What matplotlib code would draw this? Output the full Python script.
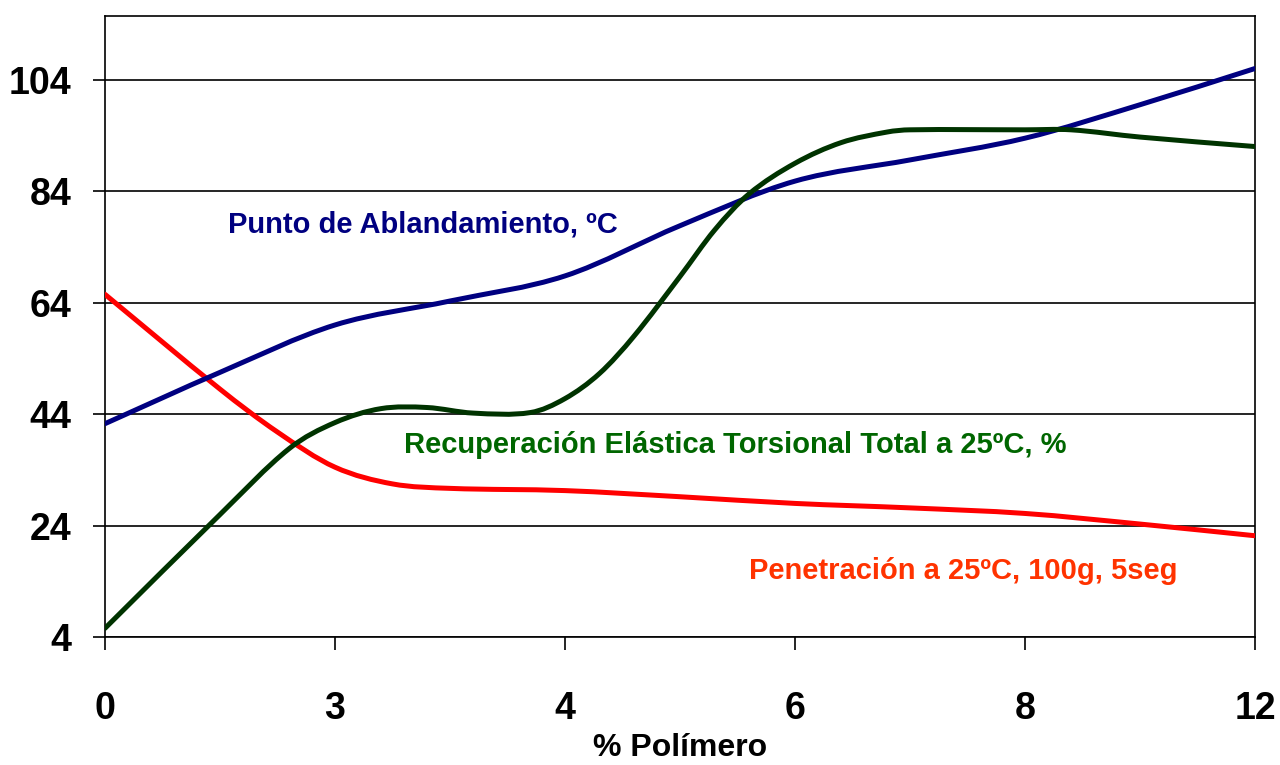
import numpy as np
import matplotlib
matplotlib.use('Agg')
import matplotlib.pyplot as plt
from matplotlib.path import Path
from matplotlib.patches import PathPatch

plt.rcParams['font.family'] = ['Liberation Sans', 'DejaVu Sans']

categories = ['0', '3', '4', '6', '8', '12']
yticks = [4, 24, 44, 64, 84, 104]

# curves (x in category positions)
x_punto = [0, 0.5, 1, 1.5, 2, 2.5, 3, 3.5, 4, 4.5, 5]
y_punto = [42.3, 51.5, 60, 64.3, 68.8, 77.8, 85.8, 89.6, 93.5, 99.5, 106]

x_recup = [0, 0.5, 0.8, 1, 1.2, 1.4, 1.6, 1.85, 2, 2.15, 2.3, 2.5, 2.65, 2.8,
           3, 3.2, 3.4, 3.5, 4, 4.2, 4.5, 5]
y_recup = [5.6, 26, 37.8, 42.5, 45.0, 45.2, 44.2, 44.3, 46.8, 51.3, 58, 68.7, 77, 83.5,
           89, 92.7, 94.6, 95, 95, 95, 93.7, 92]

x_penet = [0, 0.5, 0.75, 1, 1.25, 1.5, 2, 2.5, 3, 3.5, 4, 4.5, 5]
y_penet = [65.5, 48.5, 40.8, 34.5, 31.5, 30.7, 30.3, 29.2, 28, 27.2, 26.2, 24.3, 22.2]


def smooth_path(xs, ys):
    xs = np.asarray(xs, float)
    ys = np.asarray(ys, float)
    n = len(xs)
    m = np.zeros(n)
    for i in range(n):
        a = max(i - 1, 0)
        b = min(i + 1, n - 1)
        m[i] = (ys[b] - ys[a]) / (xs[b] - xs[a])
    verts = [(xs[0], ys[0])]
    codes = [Path.MOVETO]
    for i in range(n - 1):
        h = xs[i + 1] - xs[i]
        verts += [(xs[i] + h / 3, ys[i] + m[i] * h / 3),
                  (xs[i + 1] - h / 3, ys[i + 1] - m[i + 1] * h / 3),
                  (xs[i + 1], ys[i + 1])]
        codes += [Path.CURVE4] * 3
    return Path(verts, codes)


fig = plt.figure(figsize=(12.8, 7.65), dpi=100)
ax = fig.add_axes([0.082, 0.167, 0.8985, 0.812])

for xs, ys, c in [(x_penet, y_penet, '#ff0000'),
                  (x_punto, y_punto, '#000080'),
                  (x_recup, y_recup, '#003300')]:
    ax.add_patch(PathPatch(smooth_path(xs, ys), facecolor='none', edgecolor=c,
                           lw=3.6, capstyle='round', zorder=3))

ax.set_xlim(0, 5)
ax.set_ylim(4, 115.4)
ax.set_xticks(range(len(categories)))
ax.set_xticklabels(categories)
ax.set_yticks(yticks)
ax.grid(axis='y', color='black', lw=1.2)
ax.set_axisbelow(True)
for s in ax.spines.values():
    s.set_linewidth(1.2)
ax.tick_params(axis='x', length=9, width=1.2, pad=30)
ax.tick_params(axis='y', length=9, width=1.2, pad=15)
for lab in ax.get_xticklabels() + ax.get_yticklabels():
    lab.set_fontweight('bold')
    lab.set_fontsize(27)

ax.set_xlabel('% Polímero', fontsize=23, fontweight='bold', labelpad=4)

ax.text(0.535, 78, 'Punto de Ablandamiento, ºC', color='#000080',
        fontsize=21, fontweight='bold', va='center')
ax.text(1.30, 38.5, 'Recuperación Elástica Torsional Total a 25ºC, %',
        color='#006600', fontsize=21, fontweight='bold', va='center')
ax.text(2.80, 15.8, 'Penetración a 25ºC, 100g, 5seg', color='#ff3300',
        fontsize=21, fontweight='bold', va='center')

fig.savefig('out.png', dpi=100)
